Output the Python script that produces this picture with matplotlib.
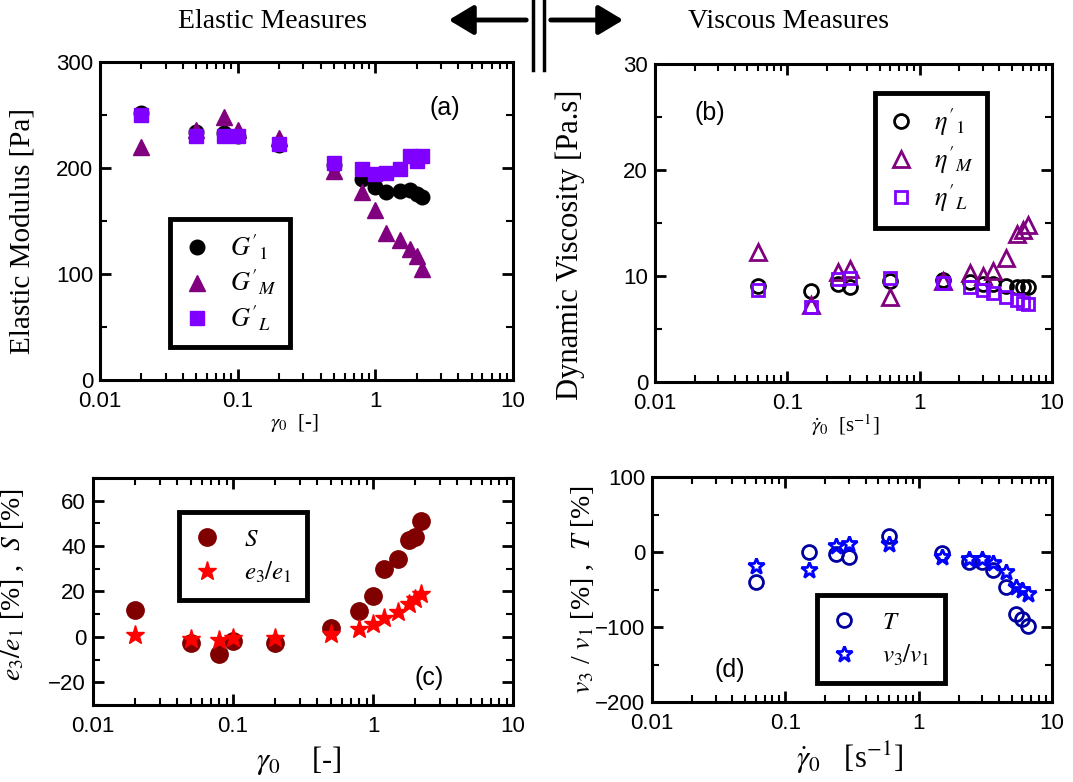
import numpy as np
import matplotlib.pyplot as plt
from matplotlib.lines import Line2D
from matplotlib.patches import FancyArrowPatch
from matplotlib.ticker import MultipleLocator, LogLocator, FixedFormatter, FixedLocator

plt.rcParams['font.family'] = ['Liberation Sans', 'DejaVu Sans']
plt.rcParams['mathtext.fontset'] = 'stix'
SERIF = 'Liberation Serif'

# strain amplitude (a,c) and shear rate amplitude (b,d)
gam = [0.02, 0.05, 0.08, 0.1, 0.2, 0.5, 0.8, 1.0, 1.2, 1.5, 1.8, 2.0, 2.2]
rate = [0.06, 0.15, 0.24, 0.3, 0.6, 1.5, 2.4, 3.0, 3.6, 4.5, 5.4, 6.0, 6.6]

# (a) elastic modulus [Pa]
G1 = [252, 234, 233, 230, 222, 203, 190, 182, 177, 178, 179, 175, 173]
GM = [220, 236, 248, 236, 228, 197, 177, 160, 139, 132, 124, 117, 105]
GL = [250, 230, 230, 230, 223, 205, 199, 194, 195, 199, 211, 207, 211]

# (b) dynamic viscosity [Pa.s]
eta1 = [9.1, 8.6, 9.2, 9.0, 9.5, 9.6, 9.4, 9.2, 9.2, 9.1, 9.0, 9.0, 9.0]
etaM = [12.3, 7.3, 10.4, 10.7, 8.0, 9.5, 10.3, 10.0, 10.5, 11.7, 14.0, 14.3, 14.8]
etaL = [8.7, 7.1, 9.7, 9.85, 9.8, 9.3, 9.0, 8.7, 8.4, 8.0, 7.7, 7.5, 7.4]

# (c) S and e3/e1 [%]
S = [12, -2.5, -7.5, -2, -2.5, 4, 11.5, 18, 30, 34.5, 42.5, 44, 51]
e31 = [0.7, -1, -1.5, -0.3, -0.3, 1.3, 3.5, 5.5, 8.5, 11, 14.5, 16.5, 19]

# (d) T and v3/v1 [%]
T = [-40, 0, -2, -7, 21, -1, -13, -13, -24, -46, -83, -89, -99]
v31 = [-18, -24, 8, 11, 11, -6, -9, -9, -14, -27, -47, -50, -56]

xticks = [0.01, 0.1, 1, 10]
xticklabels = ['0.01', '0.1', '1', '10']

fig = plt.figure(figsize=(10.73, 7.82), dpi=100)
ax_a = fig.add_axes([0.0932, 0.5141, 0.3849, 0.4066])
ax_b = fig.add_axes([0.6104, 0.5115, 0.3700, 0.4066])
ax_c = fig.add_axes([0.0867, 0.0985, 0.3914, 0.2903])
ax_d = fig.add_axes([0.6076, 0.1023, 0.3728, 0.2877])


def style(ax, ylim, ymaj, ymin, tsize):
    ax.set_xscale('log')
    ax.set_xlim(0.01, 10)
    ax.set_ylim(*ylim)
    ax.xaxis.set_major_locator(FixedLocator(xticks))
    ax.xaxis.set_major_formatter(FixedFormatter(xticklabels))
    ax.xaxis.set_minor_locator(LogLocator(base=10, subs=np.arange(2, 10)))
    ax.yaxis.set_major_locator(MultipleLocator(ymaj))
    ax.yaxis.set_minor_locator(MultipleLocator(ymin))
    ax.tick_params(which='both', direction='in', top=True, right=True, labelsize=tsize)
    ax.tick_params(which='major', length=8, width=2, pad=5)
    ax.tick_params(axis='x', which='major', pad=8)
    ax.tick_params(which='minor', length=5, width=1.5)
    for sp in ax.spines.values():
        sp.set_linewidth(2.2)


def legend(ax, x0, y1, fs, spacing, pad, tpad):
    leg = ax.legend(loc='upper left', bbox_to_anchor=(x0, y1), frameon=True, fancybox=False,
                    edgecolor='k', framealpha=1, fontsize=fs, handlelength=1.0,
                    handletextpad=tpad, labelspacing=spacing, borderpad=pad, borderaxespad=0)
    leg.get_frame().set_linewidth(3.5)
    return leg


# (a)
style(ax_a, (0, 300), 100, 50, 16)
ax_a.plot(gam, G1, 'o', color='black', ms=10.5, label=r"$G'_{1}$")
ax_a.plot(gam, GM, '^', color='#800080', ms=11.5, label=r"$G'_{M}$")
ax_a.plot(gam, GL, 's', color='#8000FF', ms=9.5, label=r"$G'_{L}$")
legend(ax_a, 0.17, 0.506, 19, 0.25, 0.5, 0.75)
ax_a.text(0.835, 0.855, '(a)', transform=ax_a.transAxes, fontsize=18, ha='center', va='center')
ax_a.set_ylabel('Elastic Modulus [Pa]', family=SERIF, fontsize=21)
ax_a.yaxis.set_label_coords(-0.157, 0.47)
ax_a.set_xlabel(r'$\gamma_0$  [-]', family=SERIF, fontsize=15)
ax_a.xaxis.set_label_coords(0.47, -0.10)

# (b)
style(ax_b, (0, 30), 10, 5, 16)
ax_b.plot(rate, eta1, 'o', mfc='none', mec='black', mew=2, ms=10, label=r"$\eta'_{1}$")
ax_b.plot(rate, etaM, '^', mfc='none', mec='#800080', mew=2, ms=11, label=r"$\eta'_{M}$")
ax_b.plot(rate, etaL, 's', mfc='none', mec='#8000FF', mew=2, ms=9, label=r"$\eta'_{L}$")
legend(ax_b, 0.554, 0.909, 19, 0.25, 0.5, 0.75)
ax_b.text(0.139, 0.846, '(b)', transform=ax_b.transAxes, fontsize=18, ha='center', va='center')
ax_b.set_ylabel('Dynamic Viscosity [Pa.s]', family=SERIF, fontsize=22)
ax_b.yaxis.set_label_coords(-0.175, 0.43)
ax_b.set_xlabel(r'$\dot{\gamma}_0$  [s$^{-1}$]', family=SERIF, fontsize=15)
ax_b.xaxis.set_label_coords(0.48, -0.095)

# (c)
style(ax_c, (-30, 70), 20, 10, 16)
ax_c.plot(gam, S, 'o', color='#800000', ms=12.5, label=r'$S$')
ax_c.plot(gam, e31, '*', color='#FF0000', ms=14, label=r'$e_{\mathit{3}}/e_{\mathit{1}}$')
legend(ax_c, 0.205, 0.85, 18, 0.35, 0.6, 1.0)
ax_c.text(0.80, 0.12, '(c)', transform=ax_c.transAxes, fontsize=18, ha='center', va='center')
ax_c.set_ylabel(r'$e_{\mathit{3}}/e_{\mathit{1}}$ [%] ,  $S$ [%]', family=SERIF, fontsize=20)
ax_c.yaxis.set_label_coords(-0.16, 0.53)
ax_c.set_xlabel(r'$\gamma_0$    [-]', family=SERIF, fontsize=22)
ax_c.xaxis.set_label_coords(0.49, -0.17)

# (d)
style(ax_d, (-200, 100), 100, 50, 16)
ax_d.plot(rate, T, 'o', mfc='none', mec='#0000A0', mew=2, ms=10, label=r'$T$')
ax_d.plot(rate, v31, '*', mfc='none', mec='#0000FF', mew=2, ms=12, label=r'$v_{\mathit{3}}/v_{\mathit{1}}$')
legend(ax_d, 0.4125, 0.476, 18, 0.35, 0.6, 1.0)
ax_d.text(0.195, 0.142, '(d)', transform=ax_d.transAxes, fontsize=18, ha='center', va='center')
ax_d.set_ylabel(r'$v_{\mathit{3}}$ / $v_{\mathit{1}}$ [%] ,  $T$ [%]', family=SERIF, fontsize=20)
ax_d.yaxis.set_label_coords(-0.14, 0.5)
ax_d.set_xlabel(r'$\dot{\gamma}_0$   [s$^{-1}$]', family=SERIF, fontsize=22)
ax_d.xaxis.set_label_coords(0.495, -0.17)

# header
W, H = 1073.0, 782.0
fig.text(272 / W, 1 - 21 / H, 'Elastic Measures', family=SERIF, fontsize=20, ha='center', va='center')
fig.text(788 / W, 1 - 21 / H, 'Viscous Measures', family=SERIF, fontsize=20, ha='center', va='center')
for xv in (533, 544):
    fig.add_artist(Line2D([xv / W, xv / W], [1.0, 1 - 70 / H], color='black', lw=2.5,
                          transform=fig.transFigure))
for x_start, x_end in ((529, 446), (548, 626)):
    fig.add_artist(FancyArrowPatch((x_start / W, 1 - 20 / H), (x_end / W, 1 - 20 / H),
                                   transform=fig.transFigure,
                                   arrowstyle='-|>,head_length=0.5,head_width=0.3',
                                   mutation_scale=30, lw=3.5, color='black'))

fig.savefig('out.png', dpi=100)
